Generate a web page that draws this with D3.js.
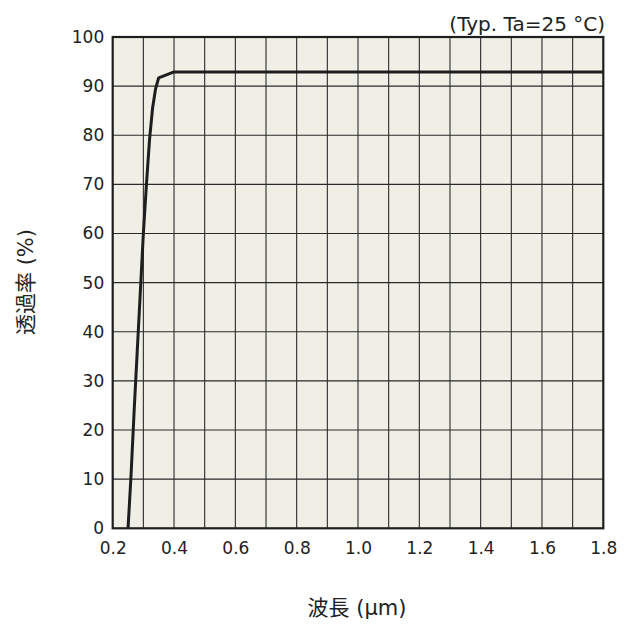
<!DOCTYPE html>
<html><head><meta charset="utf-8">
<script src="https://cdn.jsdelivr.net/npm/d3@7"></script>
<style>body{margin:0;background:#fff}</style>
</head><body>
<script>
const wavelength = [0.25, 0.26, 0.27, 0.28, 0.29, 0.30, 0.31, 0.32, 0.33, 0.34, 0.35, 0.40, 1.80];
const transmittance = [0, 11, 24, 36, 48, 60, 70, 79, 85.5, 89.5, 91.7, 92.9, 92.9];
const xTicks = [0.2, 0.4, 0.6, 0.8, 1.0, 1.2, 1.4, 1.6, 1.8];
const yTicks = [0, 10, 20, 30, 40, 50, 60, 70, 80, 90, 100];
const xGrid = d3.range(3, 18).map(i => i / 10);
const yGrid = d3.range(10, 100, 10);

const W = 629, H = 628;
const m = {left: 112.7, right: 603.3, top: 37, bottom: 528.3};
const font = "'DejaVu Sans', Verdana, sans-serif";
const cjk = "'DejaVu Sans', 'Noto Sans CJK JP', sans-serif";
const svg = d3.select("body").append("svg").attr("width", W).attr("height", H);
const x = d3.scaleLinear().domain([0.2, 1.8]).range([m.left, m.right]);
const y = d3.scaleLinear().domain([0, 100]).range([m.bottom, m.top]);

svg.append("rect").attr("x", m.left).attr("y", m.top)
  .attr("width", m.right - m.left).attr("height", m.bottom - m.top).attr("fill", "#f0efe6");

svg.append("g").selectAll("line").data(xGrid).join("line")
  .attr("x1", d => x(d)).attr("x2", d => x(d)).attr("y1", m.top).attr("y2", m.bottom)
  .attr("stroke", "#2a2a2a").attr("stroke-width", 1.1);
svg.append("g").selectAll("line").data(yGrid).join("line")
  .attr("y1", d => y(d)).attr("y2", d => y(d)).attr("x1", m.left).attr("x2", m.right)
  .attr("stroke", "#2a2a2a").attr("stroke-width", 1.1);

const line = d3.line().x((d, i) => x(wavelength[i])).y(d => y(d));
svg.append("path").datum(transmittance).attr("d", line)
  .attr("fill", "none").attr("stroke", "#1e1e1e").attr("stroke-width", 3).attr("stroke-linejoin", "round");

svg.append("rect").attr("x", m.left).attr("y", m.top)
  .attr("width", m.right - m.left).attr("height", m.bottom - m.top)
  .attr("fill", "none").attr("stroke", "#1e1e1e").attr("stroke-width", 2.2);

const xAxis = svg.append("g").attr("transform", `translate(0,${m.bottom})`)
  .call(d3.axisBottom(x).tickValues(xTicks).tickFormat(d3.format(".1f")).tickSize(0).tickPadding(14));
const yAxis = svg.append("g").attr("transform", `translate(${m.left},0)`)
  .call(d3.axisLeft(y).tickValues(yTicks).tickSize(0).tickPadding(8.5));
[xAxis, yAxis].forEach(g => {
  g.select(".domain").remove();
  g.selectAll("text").attr("font-family", font).attr("font-size", 17).attr("fill", "#222");
});

svg.append("text").attr("x", 605).attr("y", 31).attr("text-anchor", "end")
  .attr("font-family", font).attr("font-size", 20).attr("fill", "#222").text("(Typ. Ta=25 °C)");

svg.append("text").attr("x", 357).attr("y", 615).attr("text-anchor", "middle")
  .attr("font-family", cjk).attr("font-size", 21).attr("fill", "#222").text("波長 (μm)");

svg.append("text").attr("transform", "translate(33,282) rotate(-90)").attr("text-anchor", "middle")
  .attr("font-family", cjk).attr("font-size", 21).attr("fill", "#222").text("透過率 (%)");
</script>
</body></html>
